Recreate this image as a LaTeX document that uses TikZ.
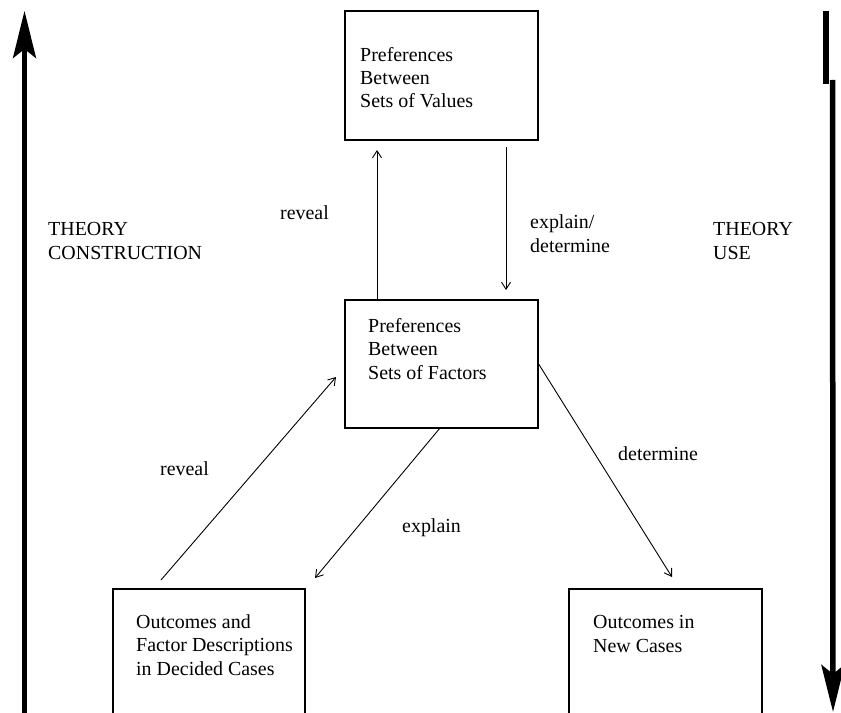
\documentclass[tikz,border=0pt]{standalone}
\usepackage{fontspec}
\setmainfont{Liberation Serif}
\usetikzlibrary{arrows.meta}
\begin{document}
\begin{tikzpicture}[x=1bp,y=-1bp,
  font=\fontsize{20}{23.5}\selectfont,
  box/.style={draw, line width=1.6bp, rectangle, inner sep=0pt, outer sep=0pt, anchor=north west},
  conn/.style={line width=0.9bp, -{Straight Barb[length=7bp,width=9bp]}},
  lbl/.style={anchor=base west, inner sep=0pt, align=left},
  bigarrow/.style={line width=5bp, -{Stealth[length=47bp,width=23bp,inset=9bp]}}]
\useasboundingbox (0,0) rectangle (841,713);
\fill[white] (0,0) rectangle (841,713);
\clip (0,0) rectangle (841,713);

% boxes
\node[box, minimum width=193bp, minimum height=129bp] (vals) at (345,11) {};
\node[box, minimum width=193bp, minimum height=128bp] (facs) at (345,300) {};
\node[box, minimum width=192bp, minimum height=200bp] (decided) at (113,589) {};
\node[box, minimum width=193bp, minimum height=200bp] (newcases) at (569,589) {};

% box texts (anchor = baseline of the last line)
\node[lbl] (valstxt) at (360,108) {Preferences\\Between\\Sets of Values};
\node[lbl] (facstxt) at (368,379) {Preferences\\Between\\Sets of Factors};
\node[lbl] (decidedtxt) at (136,675) {Outcomes and\\Factor Descriptions\\in Decided Cases};
\node[lbl] (newtxt) at (593,652) {Outcomes in\\New Cases};

% connectors
\draw[conn] ([xshift=32bp]facs.north west) -- ([xshift=32bp,yshift=-10bp]vals.south west);
\draw[conn] ([xshift=161bp,yshift=-7bp]vals.south west) -- ([xshift=161bp,yshift=10bp]facs.north west);
\draw[conn] ([xshift=48bp,yshift=9bp]decided.north west) -- ([xshift=-9bp,yshift=-77bp]facs.north west);
\draw[conn] ([xshift=95bp]facs.south west) -- ([xshift=10bp,yshift=11bp]decided.north east);
\draw[conn] ([yshift=-63bp]facs.north east) -- ([xshift=103bp,yshift=12bp]newcases.north west);

% labels
\node[lbl] (lrevealtop) at (280,219) {reveal};
\node[lbl] (lexpdet) at (530,252) {explain/\\determine};
\node[lbl] (lconstr) at (48,259) {THEORY\\CONSTRUCTION};
\node[lbl] (luse) at (713,259) {THEORY\\USE};
\node[lbl] (lrevealleft) at (160,475) {reveal};
\node[lbl] (lexplain) at (402,532) {explain};
\node[lbl] (ldetermine) at (618,460) {determine};

% big side arrows
\coordinate (lbot) at (24.5,713);
\coordinate (ltop) at (24.5,11);
\draw[bigarrow] (lbot) -- (ltop);
\coordinate (rtop) at (826,11);
\coordinate (rjog) at (826,84);
\coordinate (rmid) at (832.5,80);
\coordinate (rbot) at (833,712);
\draw[line width=6bp] (rtop) -- (rjog);
\draw[bigarrow, line width=5.5bp] (rmid) -- (rbot);
\end{tikzpicture}
\end{document}
